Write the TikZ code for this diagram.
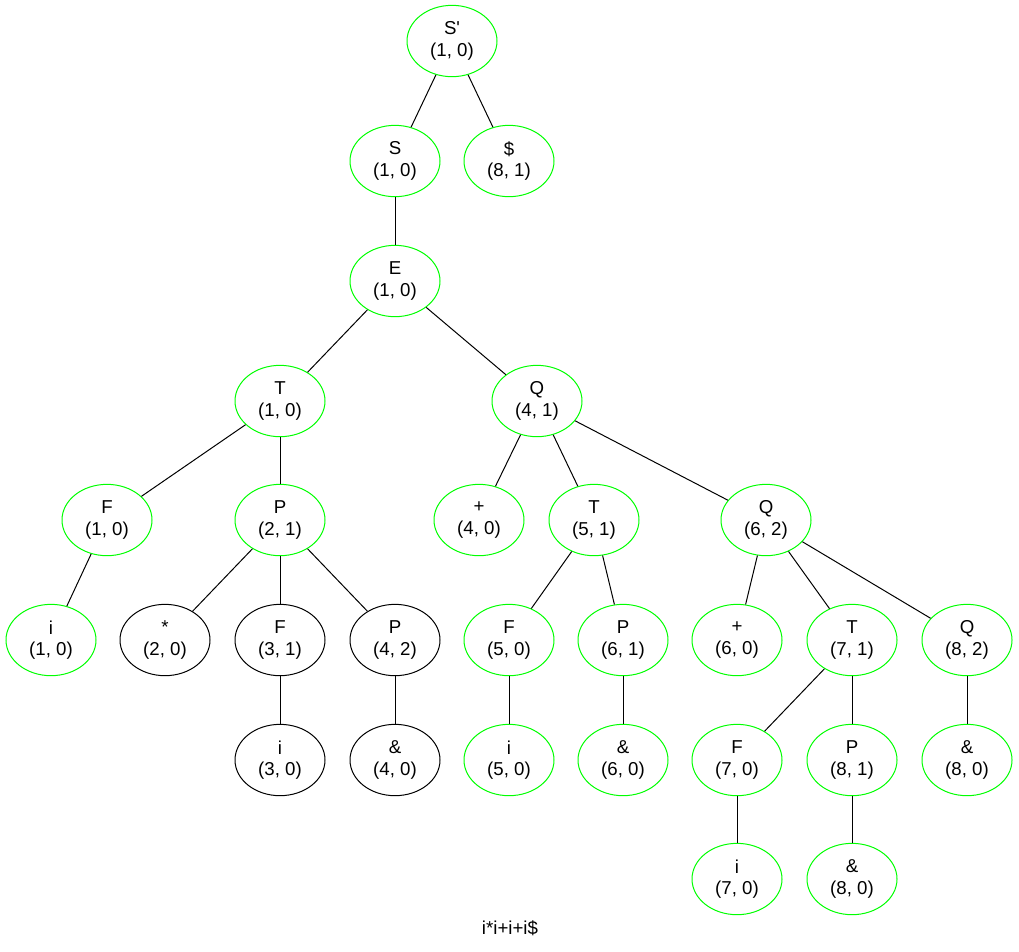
\documentclass[tikz,border=0pt]{standalone}
\usepackage{fontspec}
\setmainfont{Liberation Sans}
\usetikzlibrary{shapes.geometric}
\definecolor{gvgreen}{RGB}{0,255,0}
\tikzset{
  tnode/.style={ellipse, draw=gvgreen, line width=0.75pt, minimum width=67.5pt, minimum height=53.5pt,
    inner sep=0pt, align=center, font=\fontsize{14pt}{16pt}\selectfont},
  bnode/.style={tnode, draw=black},
  edge/.style={draw=black, line width=0.75pt}
}
\begin{document}
\begin{tikzpicture}[x=0.75pt,y=-0.75pt]
\useasboundingbox (0,0) rectangle (1019,951);
% rows
\def\ra{41}\def\rb{161}\def\rc{281}\def\rd{401}
\def\re{520}\def\rf{640}\def\rg{760}\def\rh{879}
\node[tnode] (sp) at (452,\ra) {S\textquotesingle\\(1, 0)};
\node[tnode] (s) at (395,\rb) {S\\(1, 0)};
\node[tnode] (dol) at (509,\rb) {\$\\(8, 1)};
\node[tnode] (e) at (395,\rc) {E\\(1, 0)};
\node[tnode] (t1) at (280,\rd) {T\\(1, 0)};
\node[tnode] (q4) at (537,\rd) {Q\\(4, 1)};
\node[tnode] (f1) at (107,\re) {F\\(1, 0)};
\node[tnode] (p2) at (280,\re) {P\\(2, 1)};
\node[tnode] (pl4) at (479,\re) {+\\(4, 0)};
\node[tnode] (t5) at (594,\re) {T\\(5, 1)};
\node[tnode] (q6) at (766,\re) {Q\\(6, 2)};
\node[tnode] (i1) at (51,\rf) {i\\(1, 0)};
\node[bnode] (st2) at (165,\rf) {*\\(2, 0)};
\node[bnode] (f3) at (280,\rf) {F\\(3, 1)};
\node[bnode] (p4) at (395,\rf) {P\\(4, 2)};
\node[tnode] (f5) at (509,\rf) {F\\(5, 0)};
\node[tnode] (p6) at (623,\rf) {P\\(6, 1)};
\node[tnode] (pl6) at (737,\rf) {+\\(6, 0)};
\node[tnode] (t7) at (852,\rf) {T\\(7, 1)};
\node[tnode] (q8) at (967,\rf) {Q\\(8, 2)};
\node[bnode] (i3) at (280,\rg) {i\\(3, 0)};
\node[bnode] (a4) at (395,\rg) {\&\\(4, 0)};
\node[tnode] (i5) at (509,\rg) {i\\(5, 0)};
\node[tnode] (a6) at (623,\rg) {\&\\(6, 0)};
\node[tnode] (f7) at (737,\rg) {F\\(7, 0)};
\node[tnode] (p8) at (852,\rg) {P\\(8, 1)};
\node[tnode] (a8b) at (967,\rg) {\&\\(8, 0)};
\node[tnode] (i7) at (737,\rh) {i\\(7, 0)};
\node[tnode] (a8) at (852,\rh) {\&\\(8, 0)};
\node[font=\fontsize{14pt}{16pt}\selectfont] (cap) at (510,928) {i*i+i+i\$};
% tree edges
\foreach \a/\b in {sp/s, sp/dol, s/e, e/t1, e/q4, t1/f1, t1/p2, q4/pl4, q4/t5, q4/q6,
  f1/i1, p2/st2, p2/f3, p2/p4, t5/f5, t5/p6, q6/pl6, q6/t7, q6/q8,
  f3/i3, p4/a4, f5/i5, p6/a6, t7/f7, t7/p8, q8/a8b, f7/i7, p8/a8}
  \draw[edge] (\a) -- (\b);
\end{tikzpicture}
\end{document}
